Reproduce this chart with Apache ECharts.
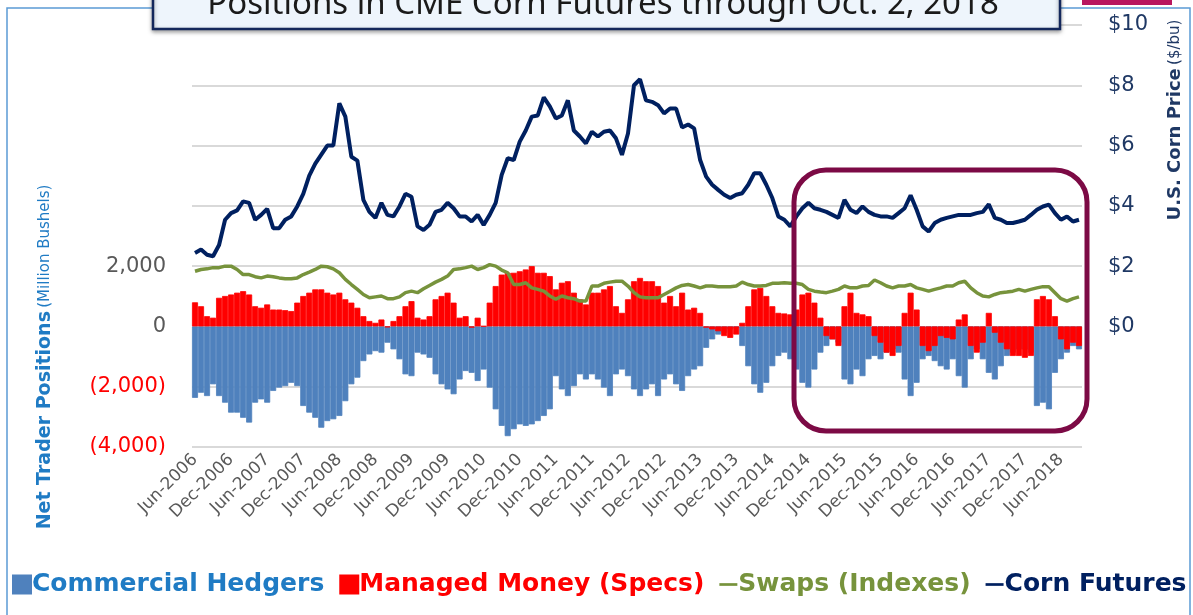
<!DOCTYPE html>
<html>
<head>
<meta charset="utf-8">
<script src="https://cdn.jsdelivr.net/npm/echarts@6/dist/echarts.min.js"></script>
<style>
  html, body { margin: 0; padding: 0; background: #fff; }
  #chart { width: 1193px; height: 615px; }
</style>
</head>
<body>
<div id="chart"></div>
<script>
// monthly readings, Jun-2006 .. Sep-2018
var startYear = 2006, startMonth = 5, monthCount = 148;
var monthNames = ['Jan', 'Feb', 'Mar', 'Apr', 'May', 'Jun', 'Jul', 'Aug', 'Sep', 'Oct', 'Nov', 'Dec'];

// net positions, million bushels
var commercial = [
  -2370, -2200, -2310, -1920, -2310, -2530, -2860, -2860, -3030, -3190, -2530, -2420,
  -2530, -2140, -2030, -1980, -1870, -1980, -2640, -2860, -3030, -3360, -3140, -3080,
  -2970, -2480, -1920, -1700, -1150, -930, -820, -870, -540, -760, -1090, -1590,
  -1650, -870, -930, -1040, -1590, -1920, -2090, -2250, -1760, -1480, -1540, -1810,
  -1430, -2030, -2750, -3300, -3640, -3410, -3250, -3300, -3250, -3140, -2970, -2750,
  -1650, -2090, -2310, -1980, -1590, -1760, -1590, -1760, -2030, -2310, -1590, -1430,
  -1650, -2090, -2310, -2090, -1920, -2310, -1760, -1590, -1920, -2140, -1650, -1430,
  -1320, -710, -430, -270, -210, -100, -40, -650, -1320, -1920, -2200, -1870,
  -1320, -980, -870, -1090, -1430, -1870, -2030, -1430, -870, -650, -430, -540,
  -1760, -1920, -1430, -1650, -1090, -980, -1090, -870, -760, -870, -1760, -2310,
  -1870, -1090, -980, -1150, -1320, -1430, -1090, -1650, -2030, -1090, -760, -1090,
  -1540, -1760, -1320, -980, -870, -760, -760, -870, -2640, -2530, -2750, -1540,
  -1090, -870, -650, -760
];
var managedMoney = [
  800, 670, 340, 290, 950, 1010, 1060, 1120, 1170, 1060, 670, 620,
  730, 560, 560, 540, 510, 790, 1010, 1120, 1230, 1230, 1120, 1060,
  1120, 900, 790, 620, 340, 180, 120, 230, -30, 180, 340, 670,
  840, 290, 230, 340, 900, 1010, 1120, 790, 290, 340, -40, 290,
  10, 790, 1340, 1720, 1780, 1780, 1830, 1890, 2000, 1780, 1780, 1670,
  1230, 1450, 1500, 1120, 900, 730, 1120, 1120, 1230, 1340, 670, 450,
  900, 1500, 1610, 1500, 1500, 1340, 790, 1010, 670, 1120, 560, 620,
  450, -40, -100, -160, -320, -380, -270, 120, 670, 1230, 1280, 1010,
  670, 450, 430, 400, 560, 1060, 1120, 790, 290, -320, -430, -650,
  670, 1120, 450, 400, 340, -320, -540, -870, -980, -650, 450, 1120,
  560, -650, -820, -650, -320, -380, -430, 230, 400, -650, -870, -540,
  450, -210, -540, -760, -980, -980, -1040, -980, 900, 1010, 900, 340,
  -430, -760, -540, -650
];
var swaps = [
  1830, 1890, 1910, 1950, 1950, 2000, 2000, 1890, 1720, 1720, 1650, 1610,
  1670, 1650, 1610, 1580, 1580, 1610, 1720, 1800, 1890, 2000, 1980, 1910,
  1780, 1560, 1390, 1230, 1060, 950, 980, 1010, 920, 920, 980, 1120,
  1170, 1120, 1250, 1360, 1470, 1560, 1670, 1890, 1910, 1950, 2000, 1890,
  1950, 2050, 2000, 1870, 1780, 1390, 1390, 1450, 1280, 1230, 1170, 1010,
  900, 1010, 950, 920, 840, 840, 1340, 1340, 1430, 1470, 1500, 1500,
  1340, 1120, 980, 950, 950, 950, 1060, 1170, 1280, 1360, 1390, 1340,
  1280, 1340, 1340, 1320, 1320, 1320, 1340, 1470, 1390, 1340, 1340, 1360,
  1430, 1430, 1450, 1430, 1430, 1390, 1230, 1170, 1140, 1120, 1170, 1230,
  1340, 1280, 1280, 1340, 1360, 1540, 1450, 1340, 1280, 1340, 1340, 1390,
  1280, 1230, 1170, 1230, 1280, 1340, 1340, 1450, 1500, 1280, 1120, 1010,
  980, 1060, 1120, 1140, 1170, 1230, 1170, 1230, 1280, 1320, 1320, 1120,
  920, 840, 920, 980
];
// U.S. corn futures price, $/bu
var cornPrice = [
  2.44, 2.55, 2.38, 2.33, 2.70, 3.54, 3.76, 3.85, 4.15, 4.10, 3.54, 3.70,
  3.90, 3.26, 3.26, 3.54, 3.65, 3.98, 4.40, 5.00, 5.40, 5.70, 6.00, 6.00,
  7.40, 6.96, 5.63, 5.50, 4.20, 3.80, 3.60, 4.10, 3.70, 3.65, 3.98, 4.40,
  4.30, 3.32, 3.20, 3.37, 3.80, 3.87, 4.10, 3.92, 3.65, 3.65, 3.48, 3.70,
  3.37, 3.70, 4.10, 5.03, 5.58, 5.52, 6.13, 6.50, 6.96, 7.00, 7.60, 7.30,
  6.90, 7.00, 7.50, 6.50, 6.30, 6.07, 6.46, 6.30, 6.46, 6.50, 6.24, 5.69,
  6.40, 8.00, 8.20, 7.50, 7.45, 7.34, 7.07, 7.23, 7.23, 6.60, 6.70, 6.57,
  5.52, 4.97, 4.70, 4.53, 4.37, 4.26, 4.37, 4.42, 4.70, 5.08, 5.08, 4.70,
  4.26, 3.65, 3.54, 3.32, 3.65, 3.92, 4.10, 3.92, 3.87, 3.80, 3.70, 3.60,
  4.20, 3.87, 3.76, 3.98, 3.80, 3.70, 3.65, 3.65, 3.60, 3.76, 3.92, 4.35,
  3.87, 3.32, 3.15, 3.43, 3.54, 3.60, 3.65, 3.70, 3.70, 3.70, 3.76, 3.80,
  4.05, 3.60, 3.54, 3.43, 3.43, 3.48, 3.54, 3.70, 3.87, 3.98, 4.04, 3.76,
  3.54, 3.65, 3.48, 3.54
];

var seriesNames = ['Commercial Hedgers', 'Managed Money (Specs)', 'Swaps (Indexes)', 'Corn Futures'];
var seriesColors = ['#4f81bd', '#ff0000', '#77933c', '#002060'];
var legendTextColors = ['#1f7bc4', '#ff0000', '#77933c', '#002060'];

var categories = [];
for (var i = 0; i < monthCount; i++) {
  var mIdx = (startMonth + i) % 12;
  var yr = startYear + Math.floor((startMonth + i) / 12);
  categories.push(monthNames[mIdx] + '-' + yr);
}

var chart = echarts.init(document.getElementById('chart'));

var lineIcon = 'path://M0,0 L20,0 L20,3 L0,3 Z';

var option = {
  animation: false,
  grid: { left: 192, right: 111, top: 25, bottom: 168 },
  legend: {
    left: 12,
    top: 572,
    width: 1181,
    padding: 0,
    itemGap: 15,
    itemWidth: 18,
    itemHeight: 18,
    textStyle: { fontFamily: 'DejaVu Sans', fontSize: 25, fontWeight: 'bold', padding: [0, 0, 0, -4] },
    data: seriesNames.map(function (n, k) {
      return {
        name: n,
        icon: k < 2 ? 'rect' : lineIcon,
        textStyle: { color: legendTextColors[k] }
      };
    })
  },
  xAxis: {
    type: 'category',
    data: categories,
    axisLine: { show: false },
    axisTick: { show: false },
    axisLabel: {
      interval: 5,
      rotate: 45,
      margin: 10,
      color: '#595959',
      fontFamily: 'DejaVu Sans',
      fontSize: 17
    }
  },
  yAxis: [
    {
      type: 'value',
      min: -4000,
      max: 10000,
      interval: 2000,
      axisLine: { show: false },
      axisTick: { show: false },
      splitLine: { lineStyle: { color: '#d9d9d9', width: 2 } },
      axisLabel: {
        margin: 26,
        color: '#595959',
        fontFamily: 'DejaVu Sans',
        fontSize: 21,
        formatter: function (v) {
          if (v > 2000) return '';
          var s = Math.abs(v).toLocaleString('en-US');
          return v < 0 ? '{neg|(' + s + ')}' : s;
        },
        rich: { neg: { color: '#ff0000', fontFamily: 'DejaVu Sans', fontSize: 21 } }
      }
    },
    {
      type: 'value',
      min: -4,
      max: 10,
      interval: 2,
      position: 'right',
      axisLine: { show: false },
      axisTick: { show: false },
      splitLine: { show: false },
      axisLabel: {
        margin: 26,
        color: '#1f3864',
        fontFamily: 'DejaVu Sans',
        fontSize: 21,
        formatter: function (v) { return v < 0 ? '' : '$' + v; }
      }
    }
  ],
  series: [
    {
      name: seriesNames[0],
      type: 'bar',
      data: commercial,
      barCategoryGap: '0%',
      barGap: '-100%',
      itemStyle: { color: seriesColors[0], borderColor: seriesColors[0], borderWidth: 0.8 }
    },
    {
      name: seriesNames[1],
      type: 'bar',
      data: managedMoney,
      barCategoryGap: '0%',
      barGap: '-100%',
      itemStyle: { color: seriesColors[1], borderColor: seriesColors[1], borderWidth: 0.8 }
    },
    {
      name: seriesNames[2],
      type: 'line',
      data: swaps,
      symbol: 'none',
      lineStyle: { color: seriesColors[2], width: 3.5 },
      itemStyle: { color: seriesColors[2] }
    },
    {
      name: seriesNames[3],
      type: 'line',
      yAxisIndex: 1,
      data: cornPrice,
      symbol: 'none',
      lineStyle: { color: seriesColors[3], width: 4 },
      itemStyle: { color: seriesColors[3] }
    }
  ],
  graphic: [
    // outer frame
    { type: 'rect', z: 0, shape: { x: 7, y: 8, width: 1183, height: 620 },
      style: { fill: 'none', stroke: '#5b9bd5', lineWidth: 1.5 } },
    // title box, cut off at the top
    { type: 'rect', z: 10, shape: { x: 153, y: -12, width: 907, height: 41 },
      style: { fill: '#eef5fc', stroke: '#14285c', lineWidth: 2.5,
               shadowBlur: 4, shadowOffsetY: 2, shadowColor: 'rgba(0,0,0,0.35)' } },
    { type: 'text', z: 11, x: 603, y: 5,
      style: { text: 'Positions in CME Corn Futures through Oct. 2, 2018', fill: '#1a1a1a',
               font: 'normal 33px "Noto Sans"', textAlign: 'center', textVerticalAlign: 'middle' } },
    { type: 'rect', z: 10, shape: { x: 1082, y: -5, width: 90, height: 10 },
      style: { fill: '#b8165f' } },
    // highlight box
    { type: 'rect', z: 20, shape: { x: 794, y: 170, width: 293, height: 261, r: 32 },
      style: { fill: 'none', stroke: '#7c0a45', lineWidth: 5 } },
    // axis titles
    { type: 'text', z: 5, x: 45, y: 357, rotation: Math.PI / 2,
      style: { text: '{b|Net Trader Positions} {n|(Million Bushels)}',
               textAlign: 'center', textVerticalAlign: 'middle',
               rich: {
                 b: { fill: '#1f7bc4', fontFamily: 'DejaVu Sans', fontWeight: 'bold', fontSize: 19 },
                 n: { fill: '#1f7bc4', fontFamily: 'DejaVu Sans', fontSize: 15 }
               } } },
    { type: 'text', z: 5, x: 1175, y: 120, rotation: Math.PI / 2,
      style: { text: '{b|U.S. Corn Price} {n|($/bu)}',
               textAlign: 'center', textVerticalAlign: 'middle',
               rich: {
                 b: { fill: '#1f3864', fontFamily: 'DejaVu Sans', fontWeight: 'bold', fontSize: 18 },
                 n: { fill: '#1f3864', fontFamily: 'DejaVu Sans', fontSize: 15 }
               } } }
  ]
};

chart.setOption(option);
</script>
</body>
</html>
